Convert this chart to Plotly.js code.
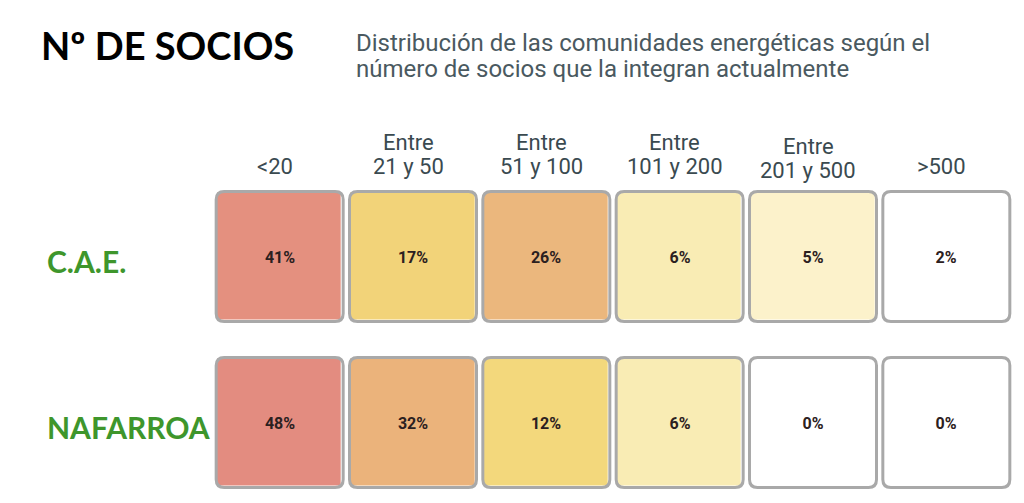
<!DOCTYPE html>
<html>
<head>
<meta charset="utf-8">
<script src="https://cdn.plot.ly/plotly-3.0.1.min.js"></script>
<style>
html,body{margin:0;padding:0;background:#ffffff;}
#chart{width:1024px;height:503px;}
</style>
</head>
<body>
<div id="chart"></div>
<script>
// ---- data ----
const categories = ['<20', 'Entre<br>21 y 50', 'Entre<br>51 y 100', 'Entre<br>101 y 200', 'Entre<br>201 y 500', '>500'];
const regions = ['C.A.E.', 'NAFARROA'];
const caeValues = [41, 17, 26, 6, 5, 2];
const nafarroaValues = [48, 32, 12, 6, 0, 0];
const titleText = 'Nº DE SOCIOS';
const subtitleLines = ['Distribución de las comunidades energéticas según el', 'número de socios que la integran actualmente'];

// ---- styles / geometry ----
const W = 1024, H = 503;
const margin = {l: 213, r: 11, t: 180, b: 3};
const plotW = W - margin.l - margin.r;
const plotH = H - margin.t - margin.b;
const colPx = plotW / categories.length;       // pixels per column unit
const rowPx = 166;                              // pixels per row unit
const yTop = -(256.5 - margin.t) / rowPx;
const yBot = yTop + plotH / rowPx;
const headerShift = [0, 0, 0, 0, -4, 0];
const colorscale = [
  [0.0, '#ffffff'], [0.045, '#ffffff'], [0.10, '#fcf3d0'], [0.125, '#f9ecb4'],
  [0.25, '#f3d87c'], [0.354, '#f2d379'], [0.54, '#ebb77d'], [0.667, '#ebb37b'],
  [0.854, '#e4907f'], [1.0, '#e38c80']
];

const xIdx = categories.map((_, i) => i);
const yIdx = regions.map((_, i) => i);
const z = [caeValues, nafarroaValues];

const boxW = 127, boxH = 130, rad = 8;   // stroke-centre box in px
const fillW = boxW - 3, fillH = boxH - 3;

const trace = {
  type: 'heatmap',
  x: xIdx, y: yIdx, z: z,
  zmin: 0, zmax: 48,
  colorscale: colorscale,
  showscale: false,
  xgap: colPx - fillW,
  ygap: rowPx - fillH,
  texttemplate: '%{z}%',
  textfont: {family: 'Roboto, Arial, sans-serif', size: 16, color: '#2b2020', weight: 700},
  hoverinfo: 'skip'
};

// rounded borders drawn through the axis scales
const shapes = [];
const hw = (boxW / 2) / colPx, hh = (boxH / 2) / rowPx;
const rx = rad / colPx, ry = rad / rowPx;
yIdx.forEach(r => {
  xIdx.forEach(c => {
    const x0 = c - hw, x1 = c + hw, y0 = r - hh, y1 = r + hh;
    const p = `M ${x0 + rx},${y0} L ${x1 - rx},${y0} Q ${x1},${y0} ${x1},${y0 + ry} ` +
              `L ${x1},${y1 - ry} Q ${x1},${y1} ${x1 - rx},${y1} ` +
              `L ${x0 + rx},${y1} Q ${x0},${y1} ${x0},${y1 - ry} ` +
              `L ${x0},${y0 + ry} Q ${x0},${y0} ${x0 + rx},${y0} Z`;
    shapes.push({type: 'path', xref: 'x', yref: 'y', path: p,
                 line: {color: '#a9a9a9', width: 3}, fillcolor: 'rgba(0,0,0,0)', layer: 'above'});
  });
});

const annotations = [];
// column headers
categories.forEach((cat, i) => {
  const lines = cat.split('<br>');
  lines.forEach((ln, k) => {
    const fromBottom = lines.length - 1 - k;
    annotations.push({
      text: ln, xref: 'x', x: i, yref: 'paper', y: 1,
      xanchor: 'center', yanchor: 'bottom', showarrow: false,
      xshift: -5, yshift: fromBottom * 24 + headerShift[i] - 1,
      font: {family: 'Roboto, sans-serif', size: 22, color: '#3a4a50'}
    });
  });
});
// row labels
regions.forEach((rg, i) => {
  annotations.push({
    text: '<b>' + rg + '</b>', xref: 'paper', x: (45 - margin.l) / plotW,
    yref: 'y', y: i, xanchor: 'left', yanchor: 'middle', showarrow: false,
    yshift: -4,
    font: {family: 'Lato, sans-serif', size: 30, color: '#3e962c'}
  });
});
// subtitle, one annotation per line
subtitleLines.forEach((ln, k) => {
  annotations.push({
    text: ln, xref: 'paper', x: (354 - margin.l) / plotW,
    yref: 'paper', y: 1 + (margin.t - (27 + 25.5 * k)) / plotH, xanchor: 'left', yanchor: 'top',
    align: 'left', showarrow: false,
    font: {family: 'Roboto, sans-serif', size: 24, color: '#4a5960'}
  });
});

const layout = {
  width: W, height: H,
  margin: margin,
  paper_bgcolor: '#ffffff', plot_bgcolor: '#ffffff',
  title: {
    text: '<b>' + titleText + '</b>', xref: 'container', yref: 'container',
    x: 41 / W, xanchor: 'left', y: 1 - 47 / H, yanchor: 'middle',
    font: {family: 'Lato, sans-serif', size: 38, color: '#000000'}
  },
  xaxis: {range: [-0.5, categories.length - 0.5], showgrid: false, zeroline: false,
          showticklabels: false, ticks: '', showline: false, fixedrange: true},
  yaxis: {range: [yBot, yTop], showgrid: false, zeroline: false,
          showticklabels: false, ticks: '', showline: false, fixedrange: true},
  shapes: shapes,
  annotations: annotations,
  showlegend: false
};

Plotly.newPlot('chart', [trace], layout, {displayModeBar: false, staticPlot: true});
</script>
</body>
</html>
